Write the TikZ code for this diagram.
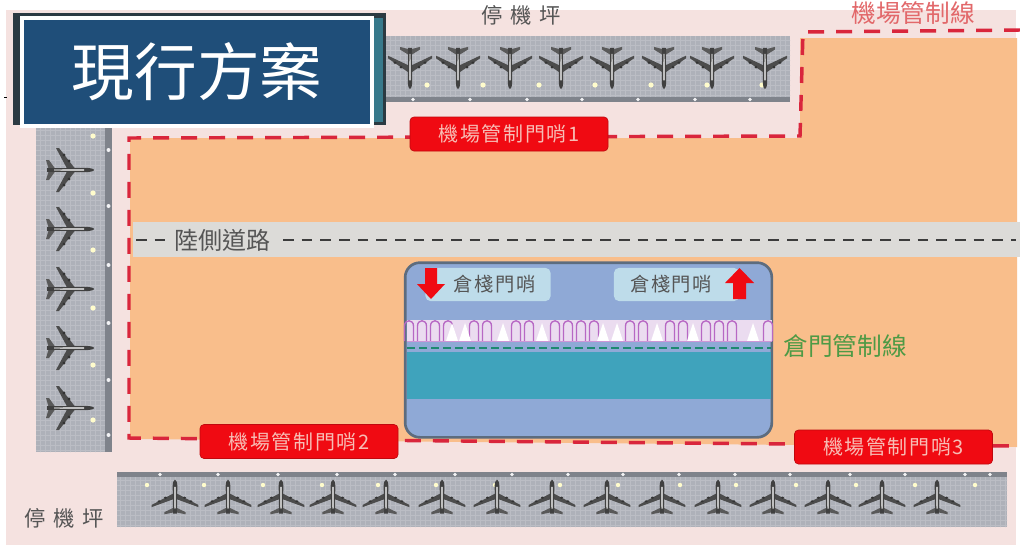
\documentclass[tikz,border=0pt]{standalone}
\usepackage{fontspec}
\setmainfont{Noto Sans CJK TC}
\newfontfamily\cjkwide[LetterSpace=8]{Noto Sans CJK TC}
\definecolor{pinkbg}{HTML}{F5E2E0}
\definecolor{orangebg}{HTML}{F9BE8B}
\definecolor{roadbg}{HTML}{DCDBD8}
\definecolor{roaddash}{HTML}{3C3C3C}
\definecolor{apron}{HTML}{AEB1B9}
\definecolor{apronline}{HTML}{BBBDC4}
\definecolor{apronstrip}{HTML}{7F838B}
\definecolor{ctrlred}{HTML}{D9263C}
\definecolor{gatered}{HTML}{F00A12}
\definecolor{gatetext}{HTML}{F7BDB5}
\definecolor{titleblue}{HTML}{1F4E79}
\definecolor{shadowdark}{HTML}{2B3A42}
\definecolor{wharea}{HTML}{8FA9D6}
\definecolor{whborder}{HTML}{5D6C7E}
\definecolor{whteal}{HTML}{3FA3BC}
\definecolor{whlabel}{HTML}{BEDCEA}
\definecolor{dockbg}{HTML}{EBDCF0}
\definecolor{dockarch}{HTML}{B768C4}
\definecolor{greendash}{HTML}{1C8A70}
\definecolor{greentext}{HTML}{4E9A45}
\definecolor{linetext}{HTML}{E2686A}
\definecolor{greytext}{HTML}{555555}
\tikzset{
  x=0.75pt,y=-0.75pt,
  gatebox/.style={fill=gatered,draw=gatered!80!black,line width=0.5pt,rounded corners=3pt,minimum width=148.5pt,minimum height=25.5pt,inner sep=0pt,text=gatetext,font=\cjkwide\fontsize{15}{15}\selectfont},
  ctrlline/.style={draw=ctrlred,line width=2.6pt,dash pattern=on 12pt off 9pt},
  roadline/.style={draw=roaddash,line width=2pt,dash pattern=on 8pt off 6pt},
  greenline/.style={draw=greendash,line width=1.6pt,dash pattern=on 6pt off 3pt},
  darklabel/.style={text=greytext,inner sep=0pt,font=\fontsize{18}{18}\selectfont},
  docklabel/.style={fill=whlabel,rounded corners=4pt,minimum width=94pt,minimum height=25pt,inner sep=0pt,text=greytext,font=\cjkwide\fontsize{14.5}{15}\selectfont},
  airplane/.pic={
    \fill[black!65] (-21,0) -- (-24,-10) -- (-21,-10) -- (-15,-1.5) -- (-15,1.5) -- (-21,10) -- (-24,10) -- cycle;
    \fill[black!70] (5,-1.5) -- (-11,-22) -- (-14,-22) -- (-3,-1.5) -- cycle;
    \fill[black!70] (5,1.5) -- (-11,22) -- (-14,22) -- (-3,1.5) -- cycle;
    \fill[black!80] (-1,-9) circle (1.6) (-6,-15) circle (1.6) (-1,9) circle (1.6) (-6,15) circle (1.6);
    \fill[black!75] (-23,-1.8) -- (16,-2.2) .. controls (21,-2) and (24,-1) .. (24,0) .. controls (24,1) and (21,2) .. (16,2.2) -- (-23,1.8) -- cycle;
    \fill[black!25] (-16,-0.7) -- (14,-0.9) -- (14,0.9) -- (-16,0.7) -- cycle;
  }
}
\begin{document}
\begin{tikzpicture}
\useasboundingbox (0,0) rectangle (1020,547);
\fill[white] (0,0) rectangle (1020,547);
\fill[pinkbg] (6,10) rectangle (1016,545);
% land
\fill[orangebg] (130,138) -- (800,138) -- (800,38) -- (1017,38) -- (1017,447) -- (130,439) -- cycle;
% road
\fill[roadbg] (133,222) rectangle (1020,257);
% aprons
\fill[apron] (36,120) rectangle (112,452);
\fill[apron] (380,36) rectangle (790,102);
\fill[apron] (117,472) rectangle (1007,527);
\begin{scope}
  \clip (36,120) rectangle (105,452) (380,36) rectangle (790,97) (117,477) rectangle (1007,527);
  \foreach \i in {0,5,...,1020} {\draw[apronline,line width=0.25pt] (\i,30) -- (\i,530);}
  \foreach \j in {30,35,...,530} {\draw[apronline,line width=0.25pt] (30,\j) -- (1010,\j);}
\end{scope}
\fill[apronstrip] (105,120) rectangle (112,452);
\fill[apronstrip] (380,97) rectangle (790,102);
\fill[apronstrip] (117,472) rectangle (1007,477);
\foreach \p in {150,206,265,323,380,435} {\fill[white!85!apron] (108.5,\p) circle (2);}
\foreach \p in {413,470,527,582,638,695,750} {\fill[white!85!apron] (\p,99.5) circle (1.8);}
\foreach \p in {160,218,278,337,395,455,512,568,623,679,735,790,850,905,965,990} {\fill[white!85!apron] (\p,474.5) circle (1.8);}
\foreach \p in {136,193,250,308,365,420} {\fill[white!80!yellow] (93,\p) circle (2.6);}
\foreach \p in {427,483,539,595,651,707,762} {\fill[white!80!yellow] (\p,85) circle (2.6);}
\foreach \p in {147,204,263,322,378,436,495,560,618,680,736,796,856,915,975} {\fill[white!80!yellow] (\p,485) circle (2.2);}
% planes
\foreach \p in {170,229,289,348,408} {\pic[shift={(70,\p)},scale=1.0] {airplane};}
\foreach \p in {410,458,510,561,612,664,712,765} {\pic[shift={(\p,68)},rotate=-90,xscale=0.88,yscale=1.0] {airplane};}
\foreach \p in {175,228,281,333,386,442,497,552,607,662,718,773,828,882,937} {\pic[shift={(\p,497)},rotate=90,xscale=0.72,yscale=1.06] {airplane};}
% control line
\coordinate (c1) at (1020,30);
\coordinate (c2) at (803,32);
\coordinate (c3) at (800,136);
\coordinate (c4) at (129,138);
\coordinate (c5) at (129,438);
\coordinate (c6) at (1017,446);
\draw[ctrlline] (c1) -- (c2) -- (c3) -- (c4) -- (c5) -- (c6);
% warehouse
\node[draw=whborder,fill=wharea,line width=2pt,rounded corners=11pt,minimum width=275pt,minimum height=131pt,inner sep=0pt] (wh) at (588.5,350) {};
\fill[whteal] (406.5,352) rectangle (770.5,399);
\fill[dockbg] (407,320) rectangle (772,341);
\foreach \p in {409,422,435,448,474,487,516,529,555,568,581,594,630,643,670,683,706,719,732,768} {
  \draw[dockarch,line width=1pt] (\p-4.5,341) -- (\p-4.5,326) .. controls (\p-4.5,319) and (\p+4.5,319) .. (\p+4.5,326) -- (\p+4.5,341);
}
\foreach \p in {452,465,503,542,603,617,657,693,753} {\fill[white] (\p-6,341) -- (\p,323) -- (\p+6,341) -- cycle;}
\draw[dockarch!70,line width=0.6pt] (407,341.5) -- (772,341.5);
\coordinate (g1) at (407,348);
\coordinate (g2) at (771,348);
\draw[greenline] (g1) -- (g2);
% warehouse labels
\node[docklabel] (wl) at (488,284.5) {\hspace*{10pt}倉棧門哨};
\node[docklabel] (wr) at (676.5,284.5) {倉棧門哨\hspace*{8pt}};
\fill[gatered] (425,268) -- (437,268) -- (437,284) -- (445,284) -- (431,299) -- (417,284) -- (425,284) -- cycle;
\fill[gatered] (733,299) -- (746,299) -- (746,283) -- (754,283) -- (739.5,268) -- (725,283) -- (733,283) -- cycle;
% gate boxes
\node[gatebox] (gate1) at (509,134) {機場管制門哨1};
\node[gatebox] (gate2) at (299,441.5) {機場管制門哨2};
\node[gatebox] (gate3) at (893.5,447) {機場管制門哨3};
% labels
\node[text=greytext,inner sep=0pt,font=\fontsize{16}{16}\selectfont] (top) at (521,15) {停\hspace{6pt}機\hspace{6pt}坪};
\node[text=greytext,inner sep=0pt,font=\fontsize{16}{16}\selectfont] (bot) at (64,518) {停\hspace{6pt}機\hspace{6pt}坪};
\node[text=linetext,inner sep=0pt,font=\fontsize{18.5}{19}\selectfont] (ctrl) at (913,13) {機場管制線};
\node[darklabel] (road) at (222,240) {陸側道路};
\coordinate (r1) at (136,240);
\coordinate (r2) at (165,240);
\coordinate (r3) at (283,240);
\coordinate (r4) at (1016,240);
\draw[roadline] (r1) -- (r2);
\draw[roadline] (r3) -- (r4);
\node[text=greentext,inner sep=0pt,font=\fontsize{18.5}{19}\selectfont] (door) at (845,346) {倉門管制線};
% title
\fill[black] (4,96.5) rectangle (7,97.5);
\fill[shadowdark] (13,13) rectangle (386,125);
\fill[whteal!60!shadowdark] (374,18) rectangle (383,122);
\node[draw=white,fill=titleblue,line width=3pt,minimum width=263pt,minimum height=81pt,inner sep=0pt,text=white,font=\fontsize{47}{47}\selectfont] (title) at (197,71.5) {現行方案};
\end{tikzpicture}
\end{document}
